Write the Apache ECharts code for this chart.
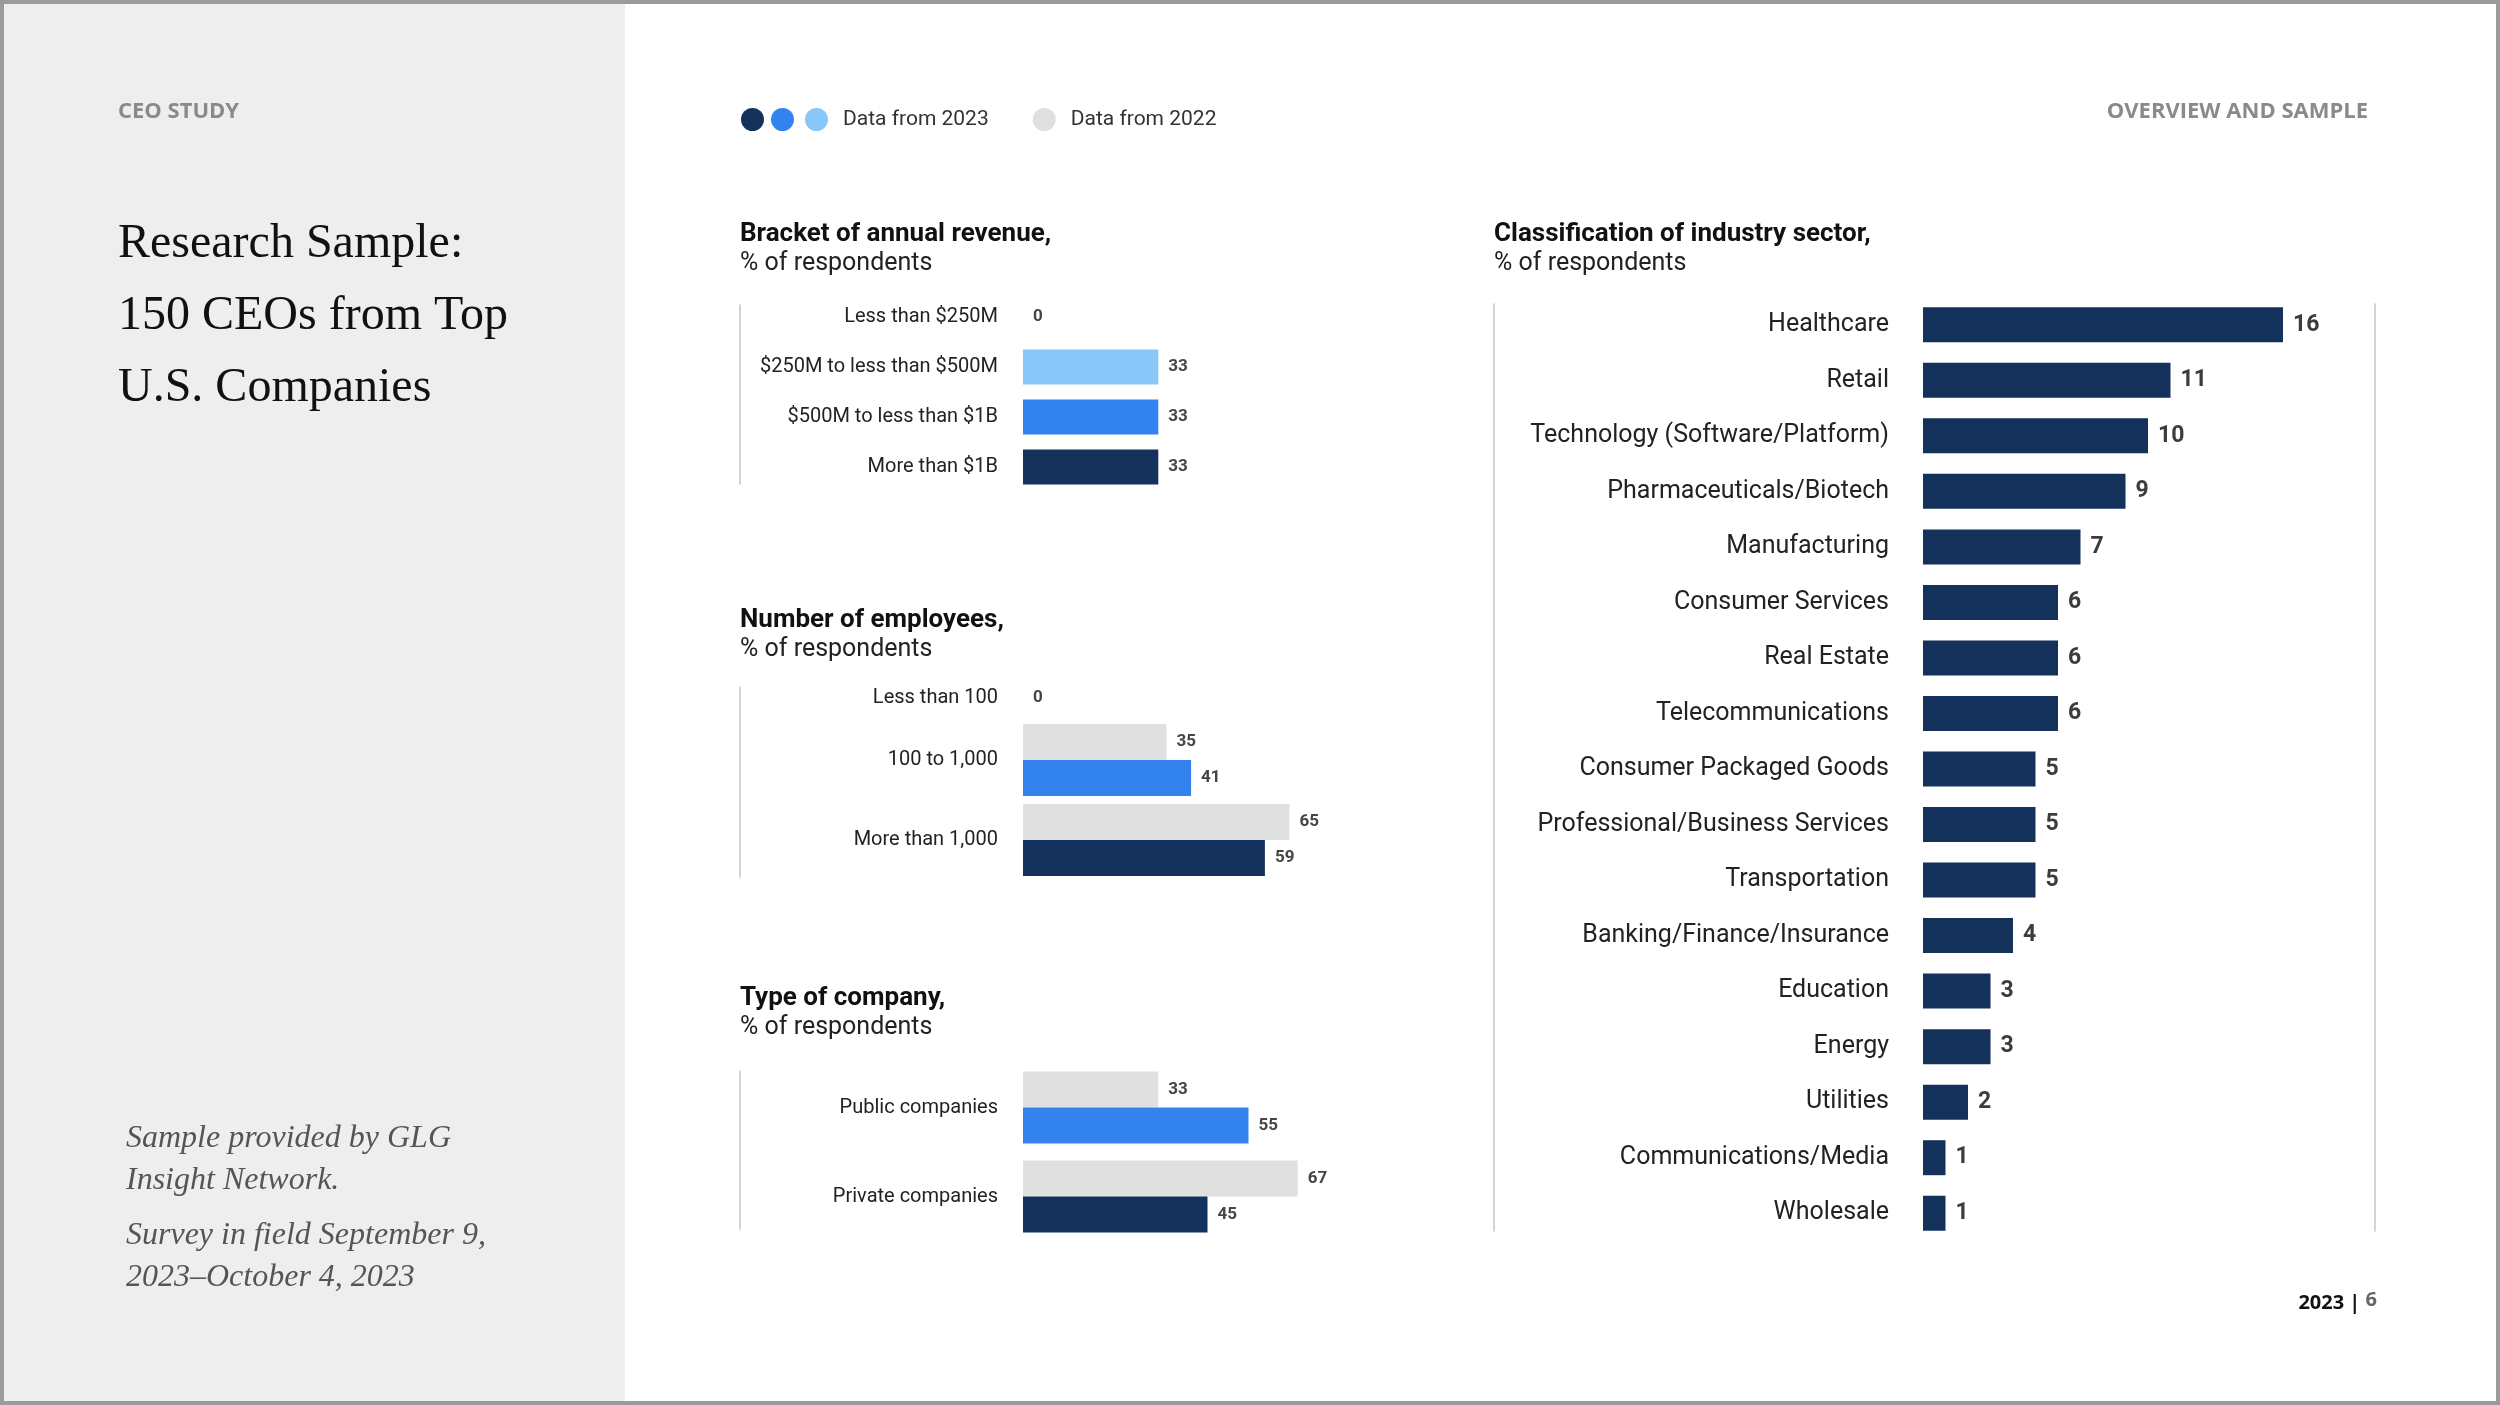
<!DOCTYPE html>
<html>
<head>
<meta charset="utf-8">
<script src="https://cdn.jsdelivr.net/npm/echarts@6/dist/echarts.min.js"></script>
<style>
html,body{margin:0;padding:0;background:#fff;}
#wrap{position:relative;width:2500px;height:1405px;}
#c{width:2500px;height:1405px;}
#frame{position:absolute;left:0;top:0;width:2500px;height:1405px;box-sizing:border-box;border:4px solid #9b9b9b;pointer-events:none;}
</style>
</head>
<body>
<div id="wrap"><div id="c"></div><div id="frame"></div></div>
<script>
// ---- data ----
const revCats = ['Less than $250M', '$250M to less than $500M', '$500M to less than $1B', 'More than $1B'];
const rev2023 = [0, 33, 33, 33];

const empCats = ['Less than 100', '100 to 1,000', 'More than 1,000'];
const emp2022 = [null, 35, 65];
const emp2023 = [0, 41, 59];

const typeCats = ['Public companies', 'Private companies'];
const type2022 = [33, 67];
const type2023 = [55, 45];

const sectorCats = ['Healthcare', 'Retail', 'Technology (Software/Platform)', 'Pharmaceuticals/Biotech',
  'Manufacturing', 'Consumer Services', 'Real Estate', 'Telecommunications', 'Consumer Packaged Goods',
  'Professional/Business Services', 'Transportation', 'Banking/Finance/Insurance', 'Education', 'Energy',
  'Utilities', 'Communications/Media', 'Wholesale'];
const sector2023 = [16, 11, 10, 9, 7, 6, 6, 6, 5, 5, 5, 4, 3, 3, 2, 1, 1];

// ---- styles ----
const NAVY = '#13315b', BLUE = '#3383ef', LIGHT = '#88c7f8', GREY = '#e0e0e0';
const SANS = 'Roboto';
const SERIF = 'Liberation Serif';
const HEAD = 'Open Sans';
const revColors = [NAVY, LIGHT, BLUE, NAVY];
const empColors = [BLUE, BLUE, NAVY];
const typeColors = [BLUE, NAVY];

const chart = echarts.init(document.getElementById('c'));

function colored(vals, colors) {
  return vals.map((v, i) => ({ value: v, itemStyle: { color: colors[i] } }));
}
function labelAxis(gi, cats, margin, fs, lowFirst) {
  const al = { margin: margin, color: '#222', fontSize: fs, fontFamily: SANS };
  if (lowFirst) {
    // the empty first row sits a little lower in the reference layout
    al.formatter = (v) => (v === cats[0] ? '{low|' + v + '}' : v);
    al.rich = { low: { fontSize: fs, fontFamily: SANS, color: '#222', padding: [36, 0, 0, 0] } };
  }
  return { type: 'category', gridIndex: gi, data: cats, inverse: true,
    axisLine: { show: false }, axisTick: { show: false }, splitLine: { show: false },
    axisLabel: al };
}
// thin vertical rule drawn as an axis line of a frame grid
function ruleAxis(gi, pos) {
  return { type: 'value', gridIndex: gi, position: pos, min: 0, max: 1,
    axisLine: { show: true, lineStyle: { color: '#c6c6c6', width: 1.5 } },
    axisTick: { show: false }, axisLabel: { show: false }, splitLine: { show: false } };
}
const smallLabel = { show: true, position: 'right', distance: 10, color: '#454545',
  fontWeight: 'bold', fontSize: 17, fontFamily: SANS };

const chartTitle = (l, t, bold) => ({
  left: l, top: t,
  text: '{b|' + bold + '}\n{n|% of respondents}',
  textStyle: { rich: {
    b: { fontFamily: SANS, fontWeight: 'bold', fontSize: 26, color: '#111', lineHeight: 30 },
    n: { fontFamily: SANS, fontWeight: 'normal', fontSize: 25, color: '#222', lineHeight: 30 } } }
});

const option = {
  animation: false,
  backgroundColor: '#ffffff',
  graphic: [{ type: 'rect', z: -10, silent: true, shape: { x: 0, y: 0, width: 625, height: 1405 },
    style: { fill: '#eeeeee' } }],
  title: [
    { left: 113, top: 96, text: 'CEO STUDY',
      textStyle: { fontFamily: HEAD, fontWeight: 'bold', fontSize: 22, color: '#8a8a8a' } },
    { left: 113, top: 203, text: 'Research Sample:\n150 CEOs from Top\nU.S. Companies',
      textStyle: { fontFamily: SERIF, fontWeight: 'normal', fontSize: 48, lineHeight: 72, color: '#111' } },
    { left: 121, top: 1113, text: 'Sample provided by GLG\nInsight Network.',
      textStyle: { fontFamily: SERIF, fontStyle: 'italic', fontWeight: 'normal', fontSize: 32, lineHeight: 42, color: '#555' } },
    { left: 121, top: 1210, text: 'Survey in field September 9,\n2023\u2013October 4, 2023',
      textStyle: { fontFamily: SERIF, fontStyle: 'italic', fontWeight: 'normal', fontSize: 32, lineHeight: 42, color: '#555' } },
    { left: 736, top: 103,
      text: '{d1|}{s|}{d2|}{s2|}{d3|}{t|Data from 2023}{d4|}{t|Data from 2022}',
      textStyle: { rich: {
        d1: { width: 23, height: 23, borderRadius: 12, backgroundColor: NAVY },
        d2: { width: 23, height: 23, borderRadius: 12, backgroundColor: BLUE },
        d3: { width: 23, height: 23, borderRadius: 12, backgroundColor: LIGHT },
        d4: { width: 23, height: 23, borderRadius: 12, backgroundColor: GREY },
        s: { width: 7 },
        s2: { width: 11 },
        t: { fontFamily: SANS, fontWeight: 'normal', fontSize: 21, color: '#333', padding: [0, 44, 0, 15] } } } },
    { right: 127, top: 96, text: 'OVERVIEW AND SAMPLE',
      textStyle: { fontFamily: HEAD, fontWeight: 'bold', fontSize: 22, color: '#8a8a8a' } },
    chartTitle(735, 214, 'Bracket of annual revenue,'),
    chartTitle(735, 600, 'Number of employees,'),
    chartTitle(735, 978, 'Type of company,'),
    chartTitle(1489, 214, 'Classification of industry sector,'),
    { right: 118, top: 1285, text: '{a|2023 | }{b|6}',
      textStyle: { rich: {
        a: { fontFamily: HEAD, fontWeight: 'bold', fontSize: 20, color: '#111' },
        b: { fontFamily: HEAD, fontWeight: 'bold', fontSize: 20, color: '#666', padding: [0, 0, 6, 0] } } } }
  ],
  grid: [
    { left: 1023, top: 292, width: 410, height: 200 },
    { left: 1023, top: 640, width: 410, height: 240 },
    { left: 1023, top: 1063, width: 410, height: 178 },
    { left: 1923, top: 297, width: 450, height: 944 },
    // frame grids carrying the thin vertical rules
    { left: 740, top: 305, width: 10, height: 179 },
    { left: 740, top: 687, width: 10, height: 190 },
    { left: 740, top: 1071, width: 10, height: 158 },
    { left: 1494, top: 304, width: 881, height: 927 }
  ],
  xAxis: [
    { type: 'value', gridIndex: 0, min: 0, max: 100, show: false },
    { type: 'value', gridIndex: 1, min: 0, max: 100, show: false },
    { type: 'value', gridIndex: 2, min: 0, max: 100, show: false },
    { type: 'value', gridIndex: 3, min: 0, max: 20, show: false },
    { type: 'value', gridIndex: 4, show: false },
    { type: 'value', gridIndex: 5, show: false },
    { type: 'value', gridIndex: 6, show: false },
    { type: 'value', gridIndex: 7, show: false }
  ],
  yAxis: [
    labelAxis(0, revCats, 25, 20),
    labelAxis(1, empCats, 25, 20, true),
    labelAxis(2, typeCats, 25, 20),
    labelAxis(3, sectorCats, 34, 25),
    ruleAxis(4, 'left'), ruleAxis(5, 'left'), ruleAxis(6, 'left'),
    ruleAxis(7, 'left'), ruleAxis(7, 'right')
  ],
  series: [
    { name: 'Revenue 2023', type: 'bar', xAxisIndex: 0, yAxisIndex: 0, barWidth: 35,
      data: colored(rev2023, revColors), label: smallLabel },
    { name: 'Employees 2022', type: 'bar', xAxisIndex: 1, yAxisIndex: 1, barWidth: 36, barGap: '0%',
      data: emp2022, itemStyle: { color: GREY }, label: smallLabel },
    { name: 'Employees 2023', type: 'bar', xAxisIndex: 1, yAxisIndex: 1, barWidth: 36, barGap: '0%',
      data: colored(emp2023, empColors), label: smallLabel },
    { name: 'Type 2022', type: 'bar', xAxisIndex: 2, yAxisIndex: 2, barWidth: 36, barGap: '0%',
      data: type2022, itemStyle: { color: GREY }, label: smallLabel },
    { name: 'Type 2023', type: 'bar', xAxisIndex: 2, yAxisIndex: 2, barWidth: 36, barGap: '0%',
      data: colored(type2023, typeColors), label: smallLabel },
    { name: 'Sector 2023', type: 'bar', xAxisIndex: 3, yAxisIndex: 3, barWidth: 35,
      data: sector2023, itemStyle: { color: NAVY },
      label: { show: true, position: 'right', distance: 10, color: '#3c3c3c', fontWeight: 'bold', fontSize: 23, fontFamily: SANS } }
  ]
};
chart.setOption(option);
</script>
</body>
</html>
